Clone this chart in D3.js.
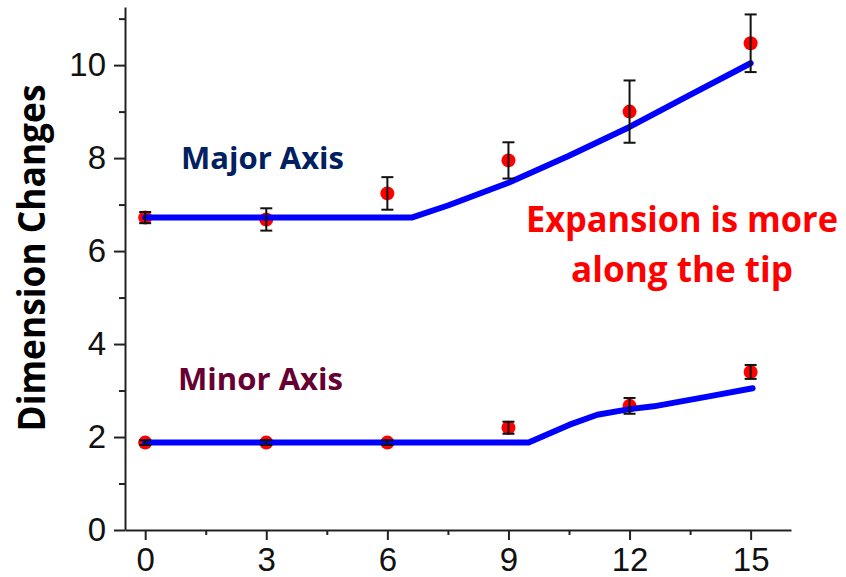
<!DOCTYPE html>
<html>
<head>
<meta charset="utf-8">
<script src="https://cdn.jsdelivr.net/npm/d3@7"></script>
<style>
  html, body { margin: 0; padding: 0; background: #fff; }
  svg { display: block; }
</style>
</head>
<body>
<svg id="chart" width="846" height="577"></svg>
<script>
// ---- data ----
const times = [0, 3, 6, 9, 12, 15];
const majorValues = [6.72, 6.68, 7.24, 7.95, 9.0, 10.47];
const majorErrors = [0.12, 0.24, 0.35, 0.39, 0.67, 0.62];
const minorValues = [1.88, 1.88, 1.88, 2.20, 2.67, 3.40];
const minorErrors = [0.05, 0.05, 0.05, 0.13, 0.17, 0.15];
const majorFitX = [0, 6.6, 7.5, 9, 10.5, 12, 13.5, 15];
const majorFitY = [6.72, 6.72, 6.98, 7.47, 8.05, 8.67, 9.36, 10.04];
const minorFitX = [0, 9.5, 10.5, 11.2, 12, 12.6, 14, 15.05];
const minorFitY = [1.88, 1.88, 2.26, 2.48, 2.6, 2.66, 2.88, 3.05];
const xTicks = [0, 3, 6, 9, 12, 15];
const xMinorTicks = [1.5, 4.5, 7.5, 10.5, 13.5];
const yTicks = [0, 2, 4, 6, 8, 10];
const yMinorTicks = [1, 3, 5, 7, 9, 11];
const yTitle = "Dimension Changes";
const labelMajor = "Major Axis";
const labelMinor = "Minor Axis";
const noteLines = ["Expansion is more", "along the tip"];

// ---- layout ----
const svg = d3.select("#chart");
const x = d3.scaleLinear().domain([-0.5, 16]).range([125, 791]);
const y = d3.scaleLinear().domain([0, 11.25]).range([530, 7]);
const axisColor = "#222";
const tickFont = "'Liberation Sans', Arial, sans-serif";
const textFont = "'Open Sans', 'Noto Sans', sans-serif";

// minor ticks
svg.append("g").attr("transform", `translate(0,${y(0)})`)
  .call(d3.axisBottom(x).tickValues(xMinorTicks).tickSize(5).tickFormat(""))
  .call(g => g.select(".domain").remove())
  .call(g => g.selectAll("line").attr("stroke", axisColor).attr("stroke-width", 2));
svg.append("g").attr("transform", `translate(${x(-0.5)},0)`)
  .call(d3.axisLeft(y).tickValues(yMinorTicks).tickSize(6).tickFormat(""))
  .call(g => g.select(".domain").remove())
  .call(g => g.selectAll("line").attr("stroke", axisColor).attr("stroke-width", 2));

// major axes
const xAxis = svg.append("g").attr("transform", `translate(0,${y(0)})`)
  .call(d3.axisBottom(x).tickValues(xTicks).tickSize(10).tickSizeOuter(0).tickPadding(8).tickFormat(d3.format("d")));
const yAxis = svg.append("g").attr("transform", `translate(${x(-0.5)},0)`)
  .call(d3.axisLeft(y).tickValues(yTicks).tickSize(11).tickSizeOuter(0).tickPadding(8).tickFormat(d3.format("d")));
[xAxis, yAxis].forEach(a => {
  a.select(".domain").attr("stroke", axisColor).attr("stroke-width", 2);
  a.selectAll(".tick line").attr("stroke", axisColor).attr("stroke-width", 2);
  a.selectAll(".tick text").attr("fill", "#111").style("font-family", tickFont).style("font-size", "33px");
});

// y-axis title
svg.append("text")
  .attr("transform", `translate(45,${258}) rotate(-90)`)
  .attr("text-anchor", "middle")
  .attr("textLength", 347).attr("lengthAdjust", "spacingAndGlyphs")
  .style("font-family", textFont).style("font-weight", 700).style("font-size", "37px")
  .attr("fill", "#000")
  .text(yTitle);

// fit lines
const line = d3.line().x(d => x(d[0])).y(d => y(d[1]));
const series = [
  {fx: majorFitX, fy: majorFitY, v: majorValues, e: majorErrors},
  {fx: minorFitX, fy: minorFitY, v: minorValues, e: minorErrors}
];
series.forEach(s => {
  const g = svg.append("g");
  g.selectAll("circle").data(times).join("circle")
    .attr("cx", (d) => x(d)).attr("cy", (d, i) => y(s.v[i])).attr("r", 7)
    .attr("fill", "#ff0000");
  g.append("path").datum(s.fx.map((d, i) => [d, s.fy[i]]))
    .attr("d", line).attr("fill", "none").attr("stroke", "#0000ff")
    .attr("stroke-width", 6).attr("stroke-linejoin", "round").attr("stroke-linecap", "round");
  const eb = g.append("g").attr("stroke", "#111").attr("stroke-width", 2);
  times.forEach((t, i) => {
    const cx = x(t), y1 = y(s.v[i] + s.e[i]), y2 = y(s.v[i] - s.e[i]);
    eb.append("line").attr("x1", cx).attr("x2", cx).attr("y1", y1).attr("y2", y2);
    eb.append("line").attr("x1", cx - 6).attr("x2", cx + 6).attr("y1", y1).attr("y2", y1);
    eb.append("line").attr("x1", cx - 6).attr("x2", cx + 6).attr("y1", y2).attr("y2", y2);
  });
});

// annotations
svg.append("text").attr("x", 181).attr("y", 169)
  .attr("textLength", 163).attr("lengthAdjust", "spacingAndGlyphs")
  .style("font-family", textFont).style("font-weight", 700).style("font-size", "30px")
  .attr("fill", "#002060").text(labelMajor);
svg.append("text").attr("x", 178).attr("y", 390)
  .attr("textLength", 165).attr("lengthAdjust", "spacingAndGlyphs")
  .style("font-family", textFont).style("font-weight", 700).style("font-size", "30px")
  .attr("fill", "#660033").text(labelMinor);
const lens = [312, 222];
noteLines.forEach((t, i) => {
  svg.append("text").attr("x", 682).attr("y", 232 + i * 50)
    .attr("text-anchor", "middle")
    .attr("textLength", lens[i]).attr("lengthAdjust", "spacingAndGlyphs")
    .style("font-family", textFont).style("font-weight", 700).style("font-size", "35px")
    .attr("fill", "#ff0000").text(t);
});
</script>
</body>
</html>
